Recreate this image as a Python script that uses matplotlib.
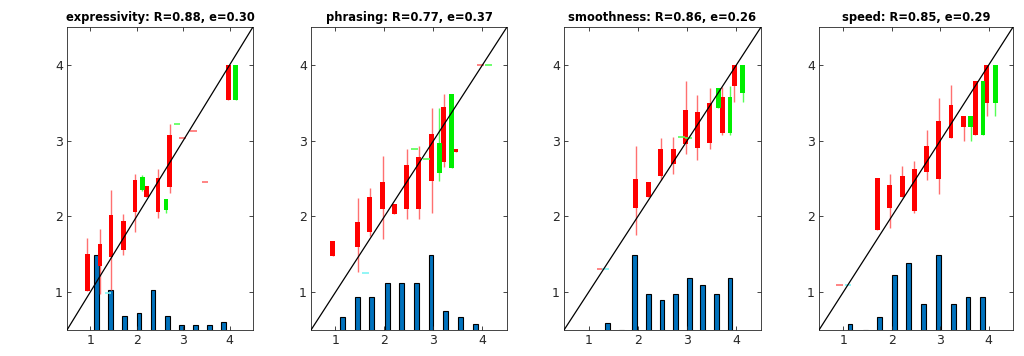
#!/usr/bin/env python3
"""
Predicted vs. rated scores per attribute - candles + count histogram
"""

import numpy as np
import matplotlib
matplotlib.use('Agg')
import matplotlib.pyplot as plt

# Candles: (x, box_top, box_bottom, whisker_top, whisker_bottom)
# flat ones (box_top == box_bottom) are drawn as a short dash

# expressivity
expr_title = 'expressivity: R=0.88, e=0.30'
expr_red = [(0.94, 1.51, 1.01, 1.71, 1.01), (1.21, 1.64, 1.34, 1.83, 0.98),
            (1.45, 2.02, 1.46, 2.35, 1.03), (1.71, 1.94, 1.55, 2.03, 1.49),
            (1.96, 2.48, 2.06, 2.56, 1.80), (2.21, 2.40, 2.26, 2.40, 2.26),
            (2.46, 2.51, 2.06, 2.62, 1.98), (2.71, 3.07, 2.39, 3.22, 2.31),
            (2.98, 3.03, 3.03, 3.03, 3.03), (3.22, 3.13, 3.13, 3.13, 3.13),
            (3.47, 2.45, 2.45, 2.45, 2.45), (3.97, 4.00, 3.53, 4.00, 3.53)]
expr_green = [(2.12, 2.52, 2.35, 2.55, 2.33), (2.63, 2.23, 2.09, 2.23, 2.04),
              (2.87, 3.22, 3.22, 3.22, 3.22), (4.13, 4.00, 3.53, 4.00, 3.53)]
expr_cyan = [(1.38, 0.99)]
expr_bar_x = [1.13, 1.44, 1.74, 2.05, 2.35, 2.66, 2.96, 3.27, 3.57, 3.87]
expr_bar_h = [1.49, 1.03, 0.68, 0.73, 1.03, 0.68, 0.56, 0.56, 0.56, 0.61]

# phrasing
phr_title = 'phrasing: R=0.77, e=0.37'
phr_red = [(0.94, 1.68, 1.48, 1.68, 1.48), (1.45, 1.93, 1.59, 2.24, 1.26),
           (1.70, 2.25, 1.80, 2.38, 1.74), (1.96, 2.45, 2.10, 2.80, 1.70),
           (2.20, 2.17, 2.03, 2.17, 2.03), (2.45, 2.68, 2.10, 2.89, 1.96),
           (2.70, 2.79, 2.10, 2.93, 1.96), (2.96, 3.09, 2.47, 3.43, 2.04),
           (3.21, 3.45, 2.72, 3.61, 2.65), (3.46, 2.89, 2.85, 2.89, 2.85),
           (3.96, 4.00, 4.00, 4.00, 4.00)]
phr_green = [(2.62, 2.89, 2.89, 2.89, 2.89), (2.85, 2.76, 2.76, 2.76, 2.76),
             (3.12, 2.97, 2.57, 3.43, 2.47), (3.37, 3.61, 2.64, 3.61, 2.64),
             (4.12, 4.00, 4.00, 4.00, 4.00)]
phr_cyan = [(1.62, 1.25)]
phr_bar_x = [1.14, 1.45, 1.74, 2.06, 2.35, 2.66, 2.95, 3.25, 3.55, 3.85]
phr_bar_h = [0.67, 0.94, 0.94, 1.12, 1.12, 1.12, 1.49, 0.75, 0.67, 0.58]

# smoothness
smo_title = 'smoothness: R=0.86, e=0.26'
smo_red = [(1.23, 1.31, 1.31, 1.31, 1.31), (1.96, 2.50, 2.11, 2.93, 1.75),
           (2.21, 2.45, 2.26, 2.45, 2.26), (2.46, 2.89, 2.53, 3.04, 2.48),
           (2.72, 2.89, 2.69, 3.05, 2.56), (2.97, 3.40, 2.96, 3.79, 2.83),
           (3.21, 3.38, 2.90, 3.60, 2.75), (3.46, 3.50, 2.97, 3.70, 2.89),
           (3.71, 3.57, 3.10, 3.71, 3.08), (3.96, 4.00, 3.72, 4.00, 3.51)]
smo_green = [(2.88, 3.05, 3.05, 3.05, 3.05), (3.03, 3.04, 3.04, 3.04, 3.04),
             (3.63, 3.70, 3.43, 3.70, 3.43), (3.87, 3.57, 3.10, 3.72, 3.08),
             (4.13, 4.00, 3.63, 4.00, 3.51)]
smo_cyan = [(1.35, 1.31)]
smo_bar_x = [1.39, 1.67, 1.94, 2.21, 2.49, 2.77, 3.04, 3.32, 3.59, 3.87]
smo_bar_h = [0.59, 0.50, 1.49, 0.98, 0.89, 0.98, 1.19, 1.09, 0.98, 1.19]

# speed
spd_title = 'speed: R=0.85, e=0.29'
spd_red = [(0.93, 1.09, 1.09, 1.09, 1.09), (1.70, 2.51, 1.82, 2.51, 1.82),
           (1.96, 2.41, 2.11, 2.56, 1.85), (2.22, 2.53, 2.26, 2.66, 2.26),
           (2.46, 2.62, 2.07, 2.73, 2.05), (2.72, 2.93, 2.58, 3.14, 2.48),
           (2.97, 3.26, 2.50, 3.56, 2.29), (3.22, 3.47, 3.03, 3.73, 3.03),
           (3.48, 3.32, 3.18, 3.32, 3.00), (3.72, 3.79, 3.07, 3.79, 3.07),
           (3.96, 4.00, 3.50, 4.00, 3.32)]
spd_green = [(3.63, 3.32, 3.18, 3.32, 3.00), (3.88, 3.79, 3.07, 3.79, 3.07),
             (4.13, 4.00, 3.50, 4.00, 3.32)]
spd_cyan = [(1.10, 1.09)]
spd_bar_x = [1.14, 1.45, 1.74, 2.05, 2.35, 2.66, 2.97, 3.27, 3.57, 3.87]
spd_bar_h = [0.58, 0.50, 0.67, 1.22, 1.39, 0.85, 1.49, 0.85, 0.94, 0.94]

panels = [
    (expr_title, expr_red, expr_green, expr_cyan, expr_bar_x, expr_bar_h),
    (phr_title, phr_red, phr_green, phr_cyan, phr_bar_x, phr_bar_h),
    (smo_title, smo_red, smo_green, smo_cyan, smo_bar_x, smo_bar_h),
    (spd_title, spd_red, spd_green, spd_cyan, spd_bar_x, spd_bar_h),
]

# axes rectangles (left, width) in figure fraction, matlab-like subplot layout
ax_left = [0.0654, 0.3037, 0.5508, 0.7998]
ax_width = [0.1816, 0.1914, 0.1924, 0.1895]
AX_BOTTOM = 0.0730
AX_HEIGHT = 0.8511

BODY_W = 0.10
DASH_W = 0.14
FG = '#262626'


def draw_candles(ax, candles, color, light):
    for x, top, bot, wtop, wbot in candles:
        if top == bot:
            ax.hlines(top, x - DASH_W / 2, x + DASH_W / 2, color=light, lw=1.2, zorder=3)
            continue
        ax.vlines(x, wbot, wtop, color=light, lw=1.0, zorder=2)
        ax.bar(x, top - bot, bottom=bot, width=BODY_W, color=color,
               edgecolor='none', zorder=3)


fig = plt.figure(figsize=(10.24, 3.56), dpi=100)

for i, (title, red, green, cyan, bx, bh) in enumerate(panels):
    ax = fig.add_axes([ax_left[i], AX_BOTTOM, ax_width[i], AX_HEIGHT])

    # count histogram at the bottom
    ax.bar(bx, bh, width=0.10, color='#0072BD', edgecolor='black', lw=0.8, zorder=1)

    draw_candles(ax, red, '#ff0000', '#ff7070')
    draw_candles(ax, green, '#00ee00', '#55ff55')
    for x, y in cyan:
        ax.hlines(y, x - DASH_W / 2, x + DASH_W / 2, color='#7ff5f5', lw=1.2, zorder=3)

    # identity line
    ax.plot([0.5, 4.5], [0.5, 4.5], color='black', lw=0.9, zorder=4)

    ax.set_xlim(0.5, 4.5)
    ax.set_ylim(0.5, 4.5)
    ax.set_xticks([1, 2, 3, 4])
    ax.set_yticks([1, 2, 3, 4])
    ax.tick_params(direction='in', length=3, width=0.6, top=True, right=True,
                   labelsize=9, colors=FG, pad=3)
    for s in ax.spines.values():
        s.set_color(FG)
        s.set_linewidth(0.6)
    ax.set_title(title, fontsize=8.3, fontweight='bold', color='black', pad=4)

plt.savefig('out.png', dpi=100)
